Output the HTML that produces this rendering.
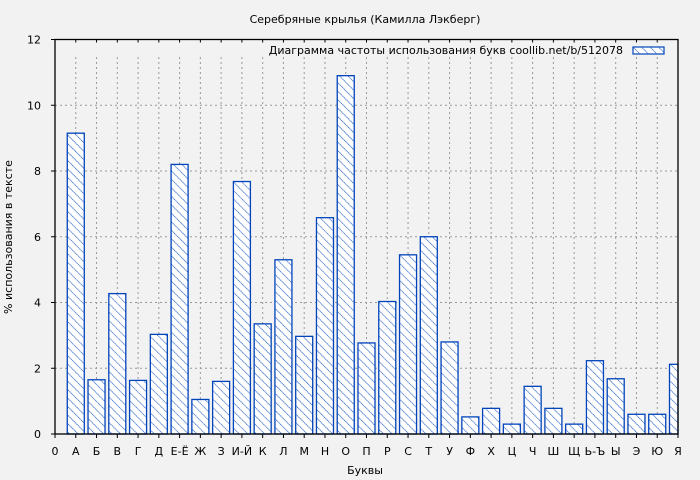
<!DOCTYPE html>
<html><head><meta charset="utf-8"><style>
html,body{margin:0;padding:0;background:#f2f2f2;}
svg{display:block;font-family:"DejaVu Sans","Liberation Sans",sans-serif;}
</style></head><body>
<svg id="s" width="700" height="480" xmlns="http://www.w3.org/2000/svg">
<defs>
<pattern id="h" patternUnits="userSpaceOnUse" width="6" height="6" patternTransform="rotate(-45)">
<rect width="6" height="6" fill="#ffffff"/>
<line x1="0" y1="0" x2="0" y2="6" stroke="#0044bb" stroke-width="1.3" stroke-dasharray="1.4 0.5"/>
</pattern>
</defs>
<rect width="700" height="480" fill="#f2f2f2"/>
<text x="365" y="23" font-size="11" text-anchor="middle" fill="#000">Серебряные крылья (Камилла Лэкберг)</text>
<g id="g"></g>
<text x="365" y="474" font-size="11" text-anchor="middle">Буквы</text>
<text transform="translate(12,237) rotate(-90)" font-size="11" text-anchor="middle">% использования в тексте</text>
</svg>
<script>
const g=document.getElementById('g');
const L=55,R=678,T=39.5,B=434;
const sy=(B-T)/12, dx=(R-L)/30;
const labs=["0","А","Б","В","Г","Д","Е-Ё","Ж","З","И-Й","К","Л","М","Н","О","П","Р","С","Т","У","Ф","Х","Ц","Ч","Ш","Щ","Ь-Ъ","Ы","Э","Ю","Я"];
const v=[9.15,1.65,4.27,1.63,3.03,8.2,1.05,1.6,7.68,3.35,5.3,2.97,6.58,10.9,2.77,4.03,5.45,6.0,2.8,0.52,0.78,0.3,1.45,0.78,0.3,2.23,1.68,0.6,0.6,2.12];
let h='';
for(let i=1;i<=30;i++){const x=L+i*dx;h+=`<line x1="${x}" y1="57" x2="${x}" y2="${B}" stroke="#999" stroke-dasharray="2 3"/>`;}
for(let k=2;k<=10;k+=2){const y=B-k*sy;h+=`<line x1="${L}" y1="${y}" x2="${R}" y2="${y}" stroke="#999" stroke-dasharray="2 3"/>`;}
for(let i=0;i<30;i++){const c=L+(i+1)*dx;let x1=c-8.5,x2=Math.min(c+8.5,R);const y=B-v[i]*sy;
h+=`<rect x="${x1}" y="${y}" width="${x2-x1}" height="${B-y}" fill="url(#h)" stroke="#0044bb" stroke-width="1.3"/>`;}
h+=`<rect x="${L}" y="${T}" width="${R-L}" height="${B-T}" fill="none" stroke="#000" stroke-width="1.3"/>`;
for(let k=0;k<=12;k+=2){const y=B-k*sy;h+=`<line x1="${L-4}" y1="${y}" x2="${L}" y2="${y}" stroke="#000"/><text x="${L-14}" y="${y+4}" font-size="11" text-anchor="end">${k}</text>`;}
for(let i=0;i<=30;i++){const x=L+i*dx;h+=`<line x1="${x}" y1="${B}" x2="${x}" y2="${B+4}" stroke="#000"/><line x1="${x}" y1="${T}" x2="${x}" y2="${T+3}" stroke="#000"/><text x="${x}" y="${B+21}" font-size="11" text-anchor="middle">${labs[i]}</text>`;}
h+=`<text x="623" y="54" font-size="11" text-anchor="end">Диаграмма частоты использования букв  coollib.net/b/512078</text>`;
h+=`<rect x="633" y="47" width="31" height="7" fill="url(#h)" stroke="#0044bb" stroke-width="1.2"/>`;
g.innerHTML=h;
</script>
</body></html>
